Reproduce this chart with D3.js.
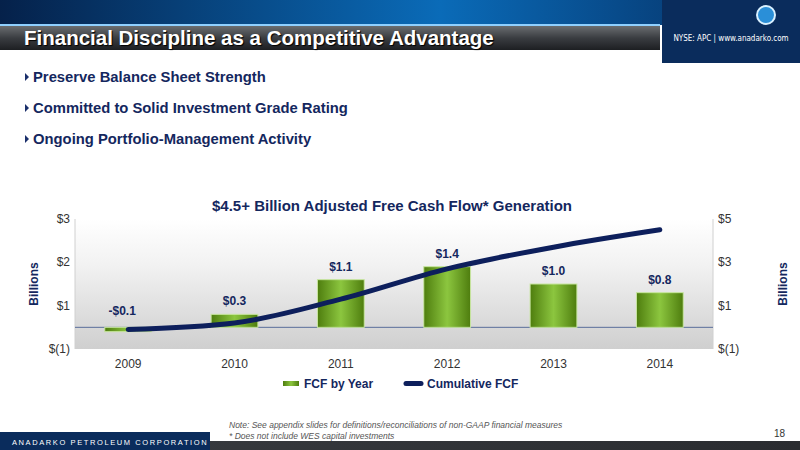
<!DOCTYPE html><html><head><meta charset="utf-8"><script src="https://d3js.org/d3.v7.min.js"></script>
<style>body{margin:0;background:#fff}svg{display:block;font-family:Arial,"Liberation Sans",sans-serif}</style></head><body><div id="c"></div><script>
const years=["2009","2010","2011","2012","2013","2014"];
const fcf=[-0.1,0.3,1.1,1.4,1.0,0.8];
const fcfLabels=["-$0.1","$0.3","$1.1","$1.4","$1.0","$0.8"];
const cumulative=[-0.1,0.2,1.3,2.7,3.7,4.5];
const leftTicks=[-0.5,0.5,1.5,2.5];
const leftTickLabels=["$(1)","$1","$2","$3"];
const rightTicks=[-1,1,3,5];
const rightTickLabels=["$(1)","$1","$3","$5"];
const bullets=["Preserve Balance Sheet Strength","Committed to Solid Investment Grade Rating","Ongoing Portfolio-Management Activity"];

const svg=d3.select("#c").append("svg").attr("width",800).attr("height",450);
const defs=svg.append("defs");
let g=defs.append("linearGradient").attr("id","top").attr("x1",0).attr("x2",1);
g.append("stop").attr("offset","0").attr("stop-color","#05214a");g.append("stop").attr("offset","0.55").attr("stop-color","#0a6bb8");g.append("stop").attr("offset","1").attr("stop-color","#062a5c");
g=defs.append("linearGradient").attr("id","band").attr("x1",0).attr("x2",0).attr("y2",1);
g.append("stop").attr("offset","0").attr("stop-color","#6a6d70");g.append("stop").attr("offset","0.5").attr("stop-color","#3a3d41");g.append("stop").attr("offset","1").attr("stop-color","#1d1f22");
g=defs.append("linearGradient").attr("id","plot").attr("x1",0).attr("x2",0).attr("y2",1);
g.append("stop").attr("offset","0").attr("stop-color","#ffffff");g.append("stop").attr("offset","0.35").attr("stop-color","#f2f2f2");g.append("stop").attr("offset","1").attr("stop-color","#cfcfcf");
g=defs.append("linearGradient").attr("id","bar").attr("x1",0).attr("x2",1);
g.append("stop").attr("offset","0").attr("stop-color","#4e7d0e");g.append("stop").attr("offset","0.5").attr("stop-color","#8cc63f");g.append("stop").attr("offset","1").attr("stop-color","#4e7d0e");
g=defs.append("linearGradient").attr("id","foot").attr("x1",0).attr("x2",1);
g.append("stop").attr("offset","0").attr("stop-color","#3a3d41");g.append("stop").attr("offset","1").attr("stop-color","#2a2c30");

// header
svg.append("rect").attr("width",800).attr("height",25).attr("fill","url(#top)");
svg.append("rect").attr("y",24).attr("width",660).attr("height",2).attr("fill","#8fd0ff");
svg.append("rect").attr("y",26).attr("width",660).attr("height",24).attr("fill","url(#band)");
svg.append("rect").attr("x",662).attr("width",138).attr("height",63).attr("fill","#0a2c5c");
svg.append("circle").attr("cx",766).attr("cy",15).attr("r",9).attr("fill","#2a8fd8").attr("stroke","#d8f0ff").attr("stroke-width",2);
svg.append("text").attr("x",731).attr("y",41).attr("text-anchor","middle").attr("fill","#fff").attr("font-size",8).attr("font-family","DejaVu Sans Condensed, Arial").text("NYSE: APC | www.anadarko.com");
svg.append("text").attr("x",24).attr("y",45).attr("fill","#fff").attr("font-size",20.5).attr("font-weight","bold").attr("style","text-shadow:1px 1px 1px #000").text("Financial Discipline as a Competitive Advantage");
bullets.forEach((b,i)=>{const y=82+i*31;
 svg.append("path").attr("d",`M25,${y-9}L29,${y-5}L25,${y-1}Z`).attr("fill","#1a2f6b");
 svg.append("text").attr("x",33).attr("y",y).attr("fill","#14275e").attr("font-size",14.8).attr("font-weight","bold").text(b);});

// chart
const x=d3.scaleBand().domain(years).range([75,713]).paddingInner(0.56).paddingOuter(0.28);
const yL=d3.scaleLinear().domain([-0.5,2.5]).range([349,219]);
const yR=d3.scaleLinear().domain([-1,5]).range([349,219]);
svg.append("rect").attr("x",75).attr("y",219).attr("width",638).attr("height",130).attr("fill","url(#plot)");
svg.append("line").attr("x1",75).attr("x2",75).attr("y1",219).attr("y2",349).attr("stroke","#d0d0d0");
svg.append("line").attr("x1",713).attr("x2",713).attr("y1",219).attr("y2",349).attr("stroke","#d0d0d0");
svg.append("line").attr("x1",75).attr("x2",713).attr("y1",yL(0)).attr("y2",yL(0)).attr("stroke","#5a6e9a");
svg.selectAll(".b").data(fcf).join("rect").attr("x",(d,i)=>x(years[i])).attr("width",x.bandwidth())
 .attr("y",d=>yL(Math.max(0,d))).attr("height",d=>Math.abs(yL(d)-yL(0))).attr("fill","url(#bar)").attr("stroke","#c8e6a0").attr("stroke-width",1);
svg.selectAll(".bl").data(fcf).join("text").attr("x",(d,i)=>x(years[i])+x.bandwidth()/2-(i==0?6:0)).attr("y",d=>yL(Math.max(0,d))-(d<0?12:9))
 .attr("text-anchor","middle").attr("font-size",12).attr("font-weight","bold").attr("fill","#14275e").text((d,i)=>fcfLabels[i]);
const line=d3.line().x((d,i)=>x(years[i])+x.bandwidth()/2).y(d=>yR(d)).curve(d3.curveMonotoneX);
svg.append("path").attr("d",line(cumulative)).attr("fill","none").attr("stroke","#0d1f5c").attr("stroke-width",5).attr("stroke-linecap","round");
leftTicks.forEach((t,i)=>svg.append("text").attr("x",70).attr("y",yL(t)+4).attr("text-anchor","end").attr("font-size",12).attr("fill","#333").text(leftTickLabels[i]));
rightTicks.forEach((t,i)=>svg.append("text").attr("x",718).attr("y",yR(t)+4).attr("font-size",12).attr("fill","#333").text(rightTickLabels[i]));
years.forEach(y=>svg.append("text").attr("x",x(y)+x.bandwidth()/2).attr("y",368).attr("text-anchor","middle").attr("font-size",12).attr("fill","#333").text(y));
svg.append("text").attr("transform","translate(38,284) rotate(-90)").attr("text-anchor","middle").attr("font-size",12).attr("font-weight","bold").attr("fill","#14275e").text("Billions");
svg.append("text").attr("transform","translate(787,284) rotate(-90)").attr("text-anchor","middle").attr("font-size",12).attr("font-weight","bold").attr("fill","#14275e").text("Billions");
svg.append("text").attr("x",392).attr("y",211).attr("text-anchor","middle").attr("font-size",15).attr("font-weight","bold").attr("fill","#14275e").text("$4.5+ Billion Adjusted Free Cash Flow* Generation");
// legend
svg.append("rect").attr("x",283).attr("y",381).attr("width",16).attr("height",5).attr("fill","url(#bar)");
svg.append("text").attr("x",304).attr("y",388).attr("font-size",12).attr("font-weight","bold").attr("fill","#14275e").text("FCF by Year");
svg.append("line").attr("x1",406).attr("x2",421).attr("y1",383.5).attr("y2",383.5).attr("stroke","#0d1f5c").attr("stroke-width",5).attr("stroke-linecap","round");
svg.append("text").attr("x",427).attr("y",388).attr("font-size",12).attr("font-weight","bold").attr("fill","#14275e").text("Cumulative FCF");
// footer
svg.append("text").attr("x",229).attr("y",428).attr("font-size",8.5).attr("font-style","italic").attr("fill","#555").text("Note: See appendix slides for definitions/reconciliations of non-GAAP financial measures");
svg.append("text").attr("x",229).attr("y",439).attr("font-size",8.5).attr("font-style","italic").attr("fill","#555").text("* Does not include WES capital investments");
svg.append("text").attr("x",785).attr("y",437).attr("text-anchor","end").attr("font-size",10).attr("fill","#333").text("18");
svg.append("rect").attr("y",441).attr("width",800).attr("height",9).attr("fill","url(#foot)");
svg.append("rect").attr("y",432).attr("width",210).attr("height",18).attr("fill","#0a2c5c");
svg.append("text").attr("x",12).attr("y",445).attr("font-size",7.5).attr("letter-spacing",1.6).attr("fill","#fff").text("ANADARKO PETROLEUM CORPORATION");
</script></body></html>
